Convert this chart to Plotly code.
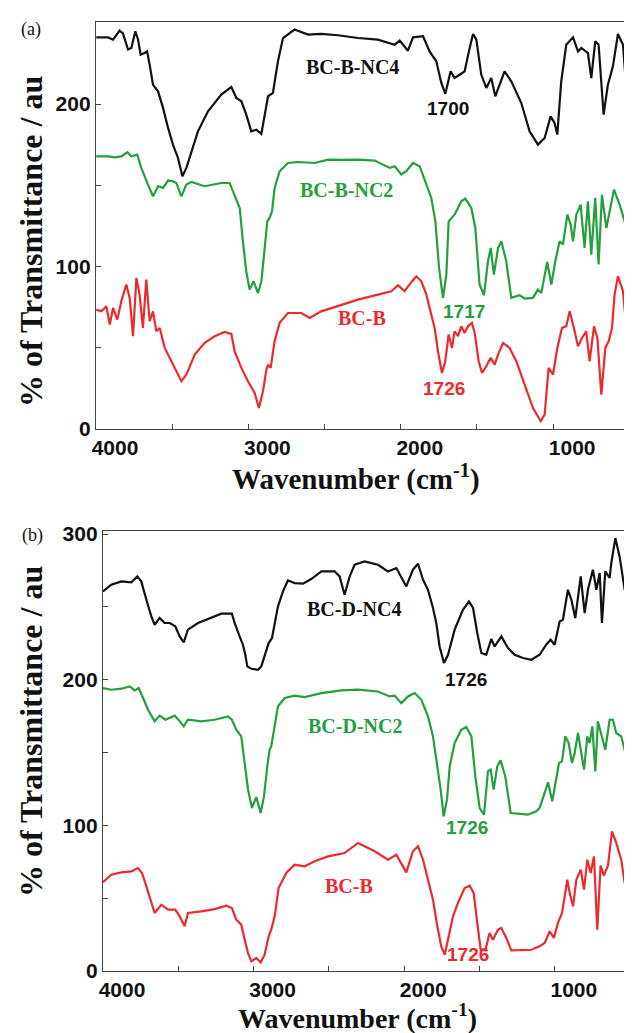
import plotly.graph_objects as go

# ---------------- Panel (a) data ----------------
a_nc4_wn = [3998, 3921, 3888, 3845, 3823, 3790, 3768, 3742, 3725, 3707, 3681, 3665, 3648, 3626, 3593, 3560,
            3527, 3495, 3462, 3433, 3407, 3374, 3331, 3265, 3178, 3112, 3079, 3046, 3014, 2981, 2948, 2915,
            2893, 2871, 2839, 2806, 2773, 2697, 2609, 2522, 2412, 2281, 2150, 2040, 2007, 1953, 1920, 1854,
            1811, 1767, 1734, 1708, 1673, 1647, 1614, 1581, 1548, 1526, 1504, 1472, 1439, 1406, 1380, 1351,
            1319, 1275, 1209, 1155, 1100, 1056, 1017, 991, 973, 947, 914, 870, 837, 815, 772, 750, 724, 702,
            669, 641, 608, 575, 542, 514, 477, 444, 431]
a_nc4_t = [241, 241, 239.6, 245.2, 243.5, 233.5, 234.5, 244.7, 240, 230.4, 231.4, 232.4, 224.3, 211.9, 207.8, 197.6,
           185.3, 175, 166.8, 155.5, 160.7, 170.9, 183.2, 195.5, 205.8, 210.5, 203.7, 201.7, 193.5, 183.2, 184.2, 181.6,
           193.5, 204.8, 206.8, 226.3, 240.6, 245.8, 242.7, 243.1, 242.3, 240.6, 239.6, 236.5, 239, 232.8, 241, 241.7,
           232.4, 226.3, 213, 206.2, 220.1, 216, 218, 220.1, 234.5, 243.1, 239.6, 218.1, 209.9, 216, 204.7, 211.9,
           220.1, 214, 200.6, 183.2, 175, 179.1, 192.4, 188.3, 181.2, 214, 236.5, 241, 232.4, 234.5, 231.4, 216, 238.6, 236.5,
           193.5, 211.9, 223.2, 243.1, 236.5, 201.7, 175, 195.5, 218]

a_nc2_wn = [3998, 3921, 3878, 3834, 3794, 3768, 3729, 3703, 3659, 3626, 3593, 3560, 3527, 3495, 3473, 3440,
            3407, 3374, 3287, 3178, 3123, 3090, 3057, 3036, 3014, 2992, 2966, 2937, 2915, 2893, 2876, 2861,
            2845, 2828, 2795, 2740, 2675, 2565, 2478, 2390, 2281, 2171, 2073, 2040, 1996, 1964, 1920, 1876,
            1832, 1800, 1773, 1749, 1723, 1701, 1686, 1647, 1603, 1577, 1537, 1511, 1483, 1454, 1428, 1410,
            1389, 1362, 1340, 1308, 1275, 1220, 1187, 1133, 1100, 1078, 1039, 1012, 986, 958, 936, 907, 885,
            870, 848, 820, 794, 772, 750, 724, 702, 680, 651, 601, 564, 531, 498, 465, 431]
a_nc2_t = [167.8, 167.8, 167.2, 167.8, 170.3, 167.8, 168.8, 160.7, 150.4, 143.2, 149.4, 148.4, 152.9, 152.5, 151.4, 143.2,
           150.4, 152.1, 149.4, 151.4, 151.4, 144.2, 136, 115.5, 97.1, 85.8, 90.9, 83.7, 90.9, 111.4, 127.8, 129.9,
           134, 148.3, 158.6, 163.7, 164.3, 163.7, 165.8, 165.6, 165.8, 165.2, 160.7, 161.7, 156.6, 158.6, 163.7, 161.7,
           150.4, 142.2, 127.8, 99.1, 80.7, 95, 127.8, 131.9, 140.1, 141.8, 136, 123.7, 88.9, 82.3, 103.2, 111.4,
           95, 111.4, 115.5, 103.2, 80.7, 82.3, 80.3, 80.7, 85.8, 83.7, 102.8, 88.9, 103.2, 115.5, 113.5, 131.9, 125.8,
           115.5, 131.9, 138.1, 111.4, 140.1, 107.3, 142.2, 101.2, 144.2, 123.7, 147.3, 138.1, 127.8, 115.5, 131.9, 134]

a_b_wn = [3998, 3965, 3932, 3910, 3888, 3860, 3834, 3801, 3779, 3757, 3735, 3714, 3692, 3670, 3648, 3626,
          3604, 3582, 3549, 3506, 3462, 3440, 3407, 3352, 3287, 3221, 3156, 3112, 3090, 3046, 3003, 2959,
          2931, 2904, 2882, 2871, 2854, 2828, 2795, 2740, 2653, 2598, 2522, 2390, 2281, 2150, 2062, 2018,
          1975, 1935, 1898, 1865, 1832, 1811, 1778, 1756, 1730, 1708, 1686, 1664, 1647, 1625, 1603, 1581,
          1559, 1533, 1515, 1489, 1467, 1439, 1410, 1384, 1362, 1329, 1286, 1242, 1187, 1133, 1082, 1056,
          1030, 1001, 973, 942, 914, 892, 864, 837, 811, 783, 761, 732, 710, 684, 658, 636, 614, 597, 575,
          542, 520, 498, 481, 461, 431]
a_b_t = [73.5, 72.4, 75.5, 64.3, 74.5, 67.3, 78.6, 88.9, 80.7, 57.1, 93, 82.7, 62.2, 91.9, 66.3, 72.4,
         60.1, 62.2, 49.9, 41.7, 33.5, 29.4, 33.5, 45.8, 53, 57.1, 59.7, 58.5, 47.8, 37.6, 29.4, 22.2,
         13, 23.3, 36.6, 39.6, 37.6, 54, 65.3, 71.4, 71.4, 68.3, 72.4, 76.6, 79.6, 82.7, 84.8, 88.5,
         84.8, 89.9, 94, 90.9, 82.7, 74.5, 62.2, 47.8, 34.5, 41.7, 58.1, 49.9, 60.1, 57.1, 63.2, 59.1,
         63.2, 65.3, 59.1, 41.7, 34.5, 38.6, 43.8, 39.6, 45.8, 53, 49.9, 41.7, 27.3, 13, 4.8, 8.9,
         37.6, 33.5, 49.9, 62.2, 63.2, 72.4, 62.2, 50.9, 56, 60.1, 41.7, 63.2, 56, 21.2, 49.9, 54, 62.2, 82.7, 94,
         84.8, 62.2, 29.4, 5.8, 29.4, 49.9]

# ---------------- Panel (b) data ----------------
b_nc4_wn = [4000, 3945, 3878, 3812, 3772, 3746, 3712, 3679, 3657, 3624, 3591, 3557, 3520, 3491, 3464, 3436,
            3369, 3281, 3214, 3144, 3126, 3093, 3071, 3055, 3042, 3015, 2971, 2949, 2927, 2900, 2878, 2838,
            2805, 2772, 2727, 2672, 2617, 2550, 2506, 2462, 2429, 2396, 2362, 2329, 2263, 2174, 2108, 2052,
            1986, 1942, 1908, 1875, 1842, 1809, 1787, 1765, 1736, 1709, 1665, 1610, 1570, 1543, 1515, 1488,
            1455, 1422, 1399, 1355, 1311, 1267, 1211, 1156, 1101, 1057, 1028, 1001, 968, 946, 913, 890, 864,
            828, 802, 780, 747, 724, 702, 687, 665, 636, 625, 598, 570, 536, 514, 488, 459, 435]
b_nc4_t = [260.6, 265.2, 267.5, 266.8, 270.9, 267.5, 254.9, 243.4, 237.7, 242.3, 238.9, 238.9, 236.6, 229.7, 225.6, 234.3,
           238.9, 242.3, 245.3, 245.3, 238.9, 229.7, 224, 217.1, 209.1, 207.5, 206.8, 209.1, 217.1, 225.1, 228.6, 250.3,
           260.6, 268.1, 266.3, 265.9, 269.1, 274.3, 274.3, 274.3, 270.9, 258.3, 270.9, 278.9, 281.2, 278.9, 274.3, 276.6,
           264, 275.5, 279.6, 268.6, 261.7, 249.2, 238.9, 222.8, 211.4, 217.1, 234.3, 248, 253.7, 249.2, 232, 218.3,
           217.1, 227.9, 222.8, 229.7, 221.7, 217.1, 214.9, 213.7, 217.1, 224, 227.4, 224, 240, 241.1, 261.7, 254.9, 242.3,
           270.9, 245.7, 261.7, 275.5, 261.7, 273.2, 238.9, 274.3, 269.8, 280, 297.2, 284.6, 261.7, 256, 243.4, 261.7, 269.8]

b_nc2_wn = [4000, 3945, 3878, 3823, 3790, 3763, 3734, 3701, 3657, 3624, 3586, 3524, 3491, 3464, 3436, 3347,
            3259, 3170, 3144, 3115, 3082, 3059, 3037, 3011, 2982, 2953, 2931, 2909, 2894, 2883, 2865, 2838,
            2794, 2728, 2661, 2550, 2418, 2307, 2174, 2097, 2063, 2019, 1975, 1931, 1886, 1842, 1809, 1782,
            1758, 1738, 1716, 1698, 1665, 1621, 1588, 1554, 1528, 1499, 1470, 1444, 1426, 1406, 1382, 1360,
            1329, 1293, 1233, 1178, 1123, 1101, 1079, 1045, 1017, 990, 972, 952, 930, 908, 886, 868, 846, 828,
            806, 784, 769, 751, 731, 714, 687, 665, 636, 614, 592, 559, 536, 519, 497, 470, 435]
b_nc2_t = [194.2, 193.1, 193.8, 195.4, 192.6, 194.2, 187.4, 179.4, 171.4, 175.3, 172.5, 175.3, 171.4, 167.9, 172.5, 171.4,
           172.5, 174.8, 172.5, 165.6, 161.1, 140.5, 124.5, 111.9, 119.4, 108.4, 119.9, 140.5, 151.9, 154.2, 165.6, 181.7,
           187.4, 189, 188, 190.8, 192.6, 193.1, 191.9, 188.5, 189, 183.9, 188.5, 190.8, 186.2, 174.8, 161.1, 142.8,
           124.5, 106.2, 117.6, 140.5, 156.5, 165.6, 167.5, 161.1, 133.6, 111.9, 107.3, 137, 138.2, 124.5, 140.5, 144.6,
           133.6, 108.4, 108, 107.3, 109.6, 111.9, 118.7, 129.5, 116.5, 131.3, 142.8, 143.9, 161.1, 156.5, 142.8, 149.6, 163.4, 152,
           138.2, 161.1, 156.5, 167.9, 137, 171.4, 161.1, 151.9, 172.5, 172.5, 163.4, 161.1, 151.9, 140.5, 151.9, 162.9, 159.2]

b_b_wn = [4000, 3945, 3878, 3812, 3768, 3741, 3712, 3684, 3657, 3613, 3568, 3520, 3491, 3458, 3436, 3347,
          3259, 3181, 3144, 3115, 3082, 3059, 3037, 3015, 2982, 2953, 2927, 2900, 2883, 2860, 2834, 2783,
          2728, 2661, 2595, 2506, 2396, 2307, 2196, 2108, 2052, 1986, 1942, 1908, 1875, 1842, 1809, 1780,
          1754, 1731, 1705, 1676, 1643, 1599, 1565, 1539, 1515, 1492, 1461, 1433, 1411, 1377, 1355, 1322,
          1289, 1222, 1156, 1101, 1067, 1034, 1006, 979, 952, 917, 901, 879, 857, 828, 806, 784, 762, 740,
          718, 696, 674, 647, 620, 592, 559, 536, 514, 488, 466, 435]
b_b_t = [60.9, 66.1, 67.7, 68.4, 70.7, 67.3, 58.1, 49, 39.8, 45.5, 42.1, 42.1, 37.5, 30.7, 39.8, 40.9,
         42.5, 44.8, 43.2, 35.2, 31.8, 21.5, 12.3, 6.6, 8.9, 5.9, 11.2, 23.8, 28.4, 37.5, 57, 67.3,
         73, 71.9, 75.3, 78.7, 81, 87.9, 82.2, 76.4, 79.8, 67.7, 82.2, 85.6, 76.4, 62.7, 49, 30.7,
         16.9, 11.2, 23.8, 37.5, 46.7, 57, 58.6, 53.6, 33, 14.6, 14.2, 26.1, 21.5, 28.4, 29.5, 22.7,
         14.2, 14.2, 14.6, 16.9, 19.2, 27.2, 22.7, 33, 39.8, 62.7, 53.6, 44.4, 62.7, 69.6, 55.9, 76.4, 67.3, 78.7,
         28.4, 72.4, 65.5, 72.4, 95.9, 87.9, 76.4, 60.4, 55.9, 44.4, 58.1, 74.1]

x_tick_vals = [4000, 3000, 2000, 1000]
x_tick_text = ["4000", "3000", "2000", "1000"]
ya_tick_vals = [0, 100, 200]
yb_tick_vals = [0, 100, 200, 300]

BLACK = "#111111"
GREEN = "#22a03c"
RED = "#ec2a2e"
W, H = 632, 1033

fig = go.Figure()
series = [
    (a_nc4_wn, a_nc4_t, BLACK, "x", "y"),
    (a_nc2_wn, a_nc2_t, GREEN, "x", "y"),
    (a_b_wn, a_b_t, RED, "x", "y"),
    (b_nc4_wn, b_nc4_t, BLACK, "x2", "y2"),
    (b_nc2_wn, b_nc2_t, GREEN, "x2", "y2"),
    (b_b_wn, b_b_t, RED, "x2", "y2"),
]
for wn, t, c, xa, ya in series:
    fig.add_trace(go.Scatter(x=wn, y=t, mode="lines", xaxis=xa, yaxis=ya,
                             line=dict(color=c, width=2.2), showlegend=False, hoverinfo="skip"))

tickfont = dict(family="Liberation Sans", size=21, color="#111", weight="bold")
axcommon = dict(showline=True, linecolor="#444", linewidth=1.4, ticks="inside", ticklen=5,
                tickcolor="#444", tickwidth=1.2, showgrid=False, zeroline=False,
                tickfont=tickfont, automargin=False)

fig.update_layout(
    width=W, height=H, paper_bgcolor="white", plot_bgcolor="white",
    margin=dict(l=0, r=0, t=0, b=0), showlegend=False,
    xaxis=dict(domain=[88 / W, 1], range=[4000, 4000 - (W - 88) * 6.562], anchor="y", mirror=True,
               tickvals=x_tick_vals, ticktext=x_tick_text, ticklabelshift=-19,
               minor=dict(dtick=500, ticks="inside", ticklen=5, tickcolor="#444"), **axcommon),
    yaxis=dict(domain=[1 - 421 / H, 1 - 14 / H], range=[0, (421 - 14) * 0.6154], anchor="x",
               tickvals=ya_tick_vals, minor=dict(dtick=50, ticks="inside", ticklen=5, tickcolor="#444"),
               **axcommon),
    xaxis2=dict(domain=[95 / W, 1], range=[4000, 4000 - (W - 95) * 6.640], anchor="y2", mirror=True,
                tickvals=x_tick_vals, ticktext=x_tick_text, ticklabelshift=-19,
                minor=dict(dtick=500, ticks="inside", ticklen=5, tickcolor="#444"), **axcommon),
    yaxis2=dict(domain=[1 - 963 / H, 1 - 523 / H], range=[0, (963 - 523) * 0.6865], anchor="x2",
                tickvals=yb_tick_vals, minor=dict(dtick=50, ticks="inside", ticklen=5, tickcolor="#444"),
                **axcommon),
)

serif_b = dict(family="Liberation Serif", weight="bold")
ann = []
# axis titles
ann.append(dict(xref="paper", yref="paper", x=348 / W, y=1 - 449 / H, showarrow=False,
                xanchor="center", yanchor="top",
                text="Wavenumber (cm<sup>-1</sup>)", font=dict(size=29, color="#111", **serif_b)))
ann.append(dict(xref="paper", yref="paper", x=350 / W, y=1 - 989 / H, showarrow=False,
                xanchor="center", yanchor="top",
                text="Wavenumber (cm<sup>-1</sup>)", font=dict(size=28, color="#111", **serif_b)))
for yc in (234, 724):
    ann.append(dict(xref="paper", yref="paper", x=23 / W, y=1 - yc / H, showarrow=False, textangle=-90,
                    xanchor="center", yanchor="middle",
                    text="% of Transmittance / au", font=dict(size=32, color="#111", **serif_b)))
# panel letters
ann.append(dict(xref="paper", yref="paper", x=23 / W, y=1 - 22 / H, showarrow=False, text="(a)",
                xanchor="center", yanchor="middle",
                font=dict(family="Liberation Serif", size=18, color="#111")))
ann.append(dict(xref="paper", yref="paper", x=24 / W, y=1 - 527 / H, showarrow=False, text="(b)",
                xanchor="center", yanchor="middle",
                font=dict(family="Liberation Serif", size=18, color="#111")))

labels_a = [("BC-B-NC4", 2314, 222.8, BLACK, True), ("1700", 1690, 197.5, BLACK, False),
            ("BC-B-NC2", 2353, 147, GREEN, True), ("1717", 1585, 72.6, GREEN, False),
            ("BC-B", 2254, 68.3, RED, True), ("1726", 1716, 25.2, RED, False)]
labels_b = [("BC-D-NC4", 2333, 248.5, BLACK, True), ("1726", 1590, 199.8, BLACK, False),
            ("BC-D-NC2", 2327, 168.2, GREEN, True), ("1726", 1583, 98.2, GREEN, False),
            ("BC-B", 2367, 58.4, RED, True), ("1726", 1576, 11, RED, False)]
for labels, xr, yr in ((labels_a, "x", "y"), (labels_b, "x2", "y2")):
    for txt, xv, yv, c, is_name in labels:
        if is_name:
            f = dict(size=20, color=c, **serif_b)
        else:
            f = dict(family="Liberation Sans", size=19, color=c, weight="bold")
        ann.append(dict(xref=xr, yref=yr, x=xv, y=yv, text=txt, showarrow=False,
                        xanchor="center", yanchor="middle", font=f))

fig.update_layout(annotations=ann)
fig.write_html("out.html")
